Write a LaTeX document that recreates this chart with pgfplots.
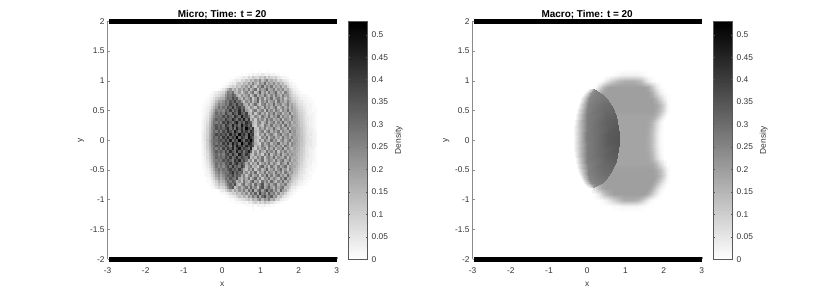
\documentclass[border=0pt]{standalone}
\usepackage{fontspec}
\setmainfont{Liberation Sans}
\usepackage{pgfplots}
\pgfplotsset{compat=1.18}
\definecolor{lab}{gray}{0.2}
\pgfplotsset{
 colormap={flipgray}{rgb=(1,1,1) rgb=(0,0,0)},
 panel/.style={
  scale only axis, width=229.3bp, height=237.9bp, clip=false,
  xmin=-3, xmax=3, ymin=-2, ymax=2,
  axis x line*=bottom, axis y line*=left,
  axis line style={-,draw=black!45, line width=0.7bp},
  tick style={draw=black!45, line width=0.5bp}, major tick length=2bp, tick align=inside,
  xtick={-3,-2,-1,0,1,2,3},
  ytick={-2,-1.5,-1,-0.5,0,0.5,1,1.5,2},
  /pgf/number format/assume math mode=true,
  tick label style={font=\fontsize{8.4}{9}\selectfont, text=lab},
  xticklabel style={yshift=-5bp},
  yticklabel style={xshift=0.5bp},
  xlabel=x, ylabel=y,
  label style={font=\fontsize{8.4}{9}\selectfont, text=lab},
  xlabel style={at={(axis description cs:0.5,0)},anchor=base,yshift=-27.5bp},
  ylabel style={at={(axis description cs:0,0.5)},anchor=base,yshift=25bp},
  title style={at={(axis description cs:0.5,1)},anchor=base,yshift=-2bp,font=\bfseries\fontsize{10}{11}\selectfont},
  point meta min=0, point meta max=0.53,
  colorbar sampled,
  colorbar shift/.style={xshift=5.7bp},
  colorbar style={
   samples=107,
   width=19.5bp, height=237.9bp,
   ytick={0,0.05,0.1,0.15,0.2,0.25,0.3,0.35,0.4,0.45,0.5},
   /pgf/number format/fixed, /pgf/number format/precision=2, /pgf/number format/assume math mode=true,
   tick style={draw=black!65, line width=0.5bp}, major tick length=2bp, tick align=inside,
   axis line style={draw=black!65, line width=0.7bp},
   yticklabel style={font=\fontsize{8.4}{9}\selectfont, text=lab, xshift=0.5bp},
   ylabel=Density,
   ylabel style={font=\fontsize{8.4}{9}\selectfont, text=lab},
  },
 }
}
\begin{document}
\begin{tikzpicture}
\path[use as bounding box] (0,0) rectangle (830bp,291bp);
\begin{axis}[panel, at={(107.5bp,31.8bp)}, anchor=south west, title={Micro; Time: t = 20}]
\addplot[matrix plot*, mesh/cols=50, point meta=explicit, forget plot] table[header=false,row sep=\\,
 x expr={-0.5+0.06*mod(\coordindex,50)}, y expr={1.15-0.05*floor(\coordindex/50)}, meta index=0]{
0\\0\\0\\0\\0\\0\\0\\0\\0\\0\\ 0\\0\\0\\0\\0\\0\\0\\0\\0\\0\\ 0\\0\\.01\\0\\0\\.01\\0\\0\\.01\\0\\ 0\\0\\0\\0\\0\\0\\0\\0\\0\\0\\ 0\\0\\0\\0\\0\\0\\0\\0\\0\\0\\
0\\0\\0\\0\\0\\0\\0\\0\\0\\0\\ 0\\0\\0\\0\\0\\0\\0\\.01\\0\\.01\\ .02\\.01\\.03\\.02\\.04\\.02\\.05\\.03\\.02\\.04\\ .02\\.03\\.01\\.01\\0\\.01\\0\\0\\0\\0\\ 0\\0\\0\\0\\0\\0\\0\\0\\0\\0\\
0\\0\\0\\0\\0\\0\\0\\0\\0\\0\\ 0\\0\\0\\0\\.01\\.01\\.02\\.03\\.05\\.04\\ .08\\.06\\.11\\.09\\.07\\.13\\.1\\.15\\.08\\.12\\ .09\\.07\\.1\\.05\\.04\\.02\\.02\\.01\\0\\0\\ 0\\0\\0\\0\\0\\0\\0\\0\\0\\0\\
0\\0\\0\\0\\0\\0\\0\\0\\0\\0\\ 0\\0\\.01\\.02\\.03\\.05\\.04\\.09\\.07\\.12\\ .1\\.17\\.12\\.2\\.15\\.24\\.13\\.19\\.26\\.14\\ .18\\.13\\.16\\.09\\.11\\.06\\.05\\.03\\.01\\.01\\ 0\\0\\0\\0\\0\\0\\0\\0\\0\\0\\
0\\0\\0\\0\\0\\0\\0\\0\\0\\0\\ .01\\.01\\.03\\.05\\.04\\.09\\.12\\.08\\.16\\.13\\ .21\\.14\\.26\\.17\\.12\\.23\\.19\\.3\\.15\\.22\\ .17\\.24\\.14\\.19\\.12\\.15\\.08\\.06\\.03\\.02\\ .01\\0\\0\\0\\0\\0\\0\\0\\0\\0\\
0\\0\\0\\0\\0\\0\\0\\0\\0\\.01\\ .02\\.04\\.07\\.1\\.08\\.14\\.11\\.18\\.15\\.21\\ .13\\.27\\.18\\.11\\.24\\.2\\.31\\.16\\.25\\.19\\ .28\\.15\\.21\\.17\\.23\\.13\\.16\\.09\\.05\\.03\\ .02\\.01\\0\\0\\0\\0\\0\\0\\0\\0\\
0\\0\\0\\0\\0\\0\\0\\.01\\.02\\.05\\ .09\\.16\\.22\\.13\\.18\\.12\\.2\\.15\\.24\\.17\\ .28\\.14\\.21\\.3\\.12\\.26\\.19\\.23\\.33\\.17\\ .2\\.27\\.15\\.22\\.18\\.25\\.14\\.17\\.1\\.06\\ .03\\.02\\.01\\0\\0\\0\\0\\0\\0\\0\\
0\\0\\0\\0\\.01\\.02\\.04\\.06\\.07\\.09\\ .17\\.27\\.24\\.3\\.16\\.14\\.21\\.11\\.19\\.25\\ .15\\.22\\.29\\.13\\.2\\.34\\.17\\.24\\.14\\.28\\ .19\\.23\\.31\\.16\\.21\\.13\\.26\\.18\\.12\\.08\\ .05\\.03\\.02\\.01\\0\\0\\0\\0\\0\\0\\
0\\0\\0\\.01\\.02\\.04\\.06\\.08\\.1\\.13\\ .22\\.28\\.27\\.33\\.29\\.18\\.13\\.23\\.16\\.2\\ .27\\.12\\.19\\.31\\.15\\.23\\.18\\.3\\.21\\.14\\ .25\\.17\\.29\\.2\\.14\\.27\\.19\\.22\\.13\\.1\\ .07\\.05\\.03\\.02\\.02\\.01\\.01\\0\\0\\0\\
0\\0\\.01\\.02\\.03\\.06\\.1\\.13\\.15\\.17\\ .25\\.31\\.28\\.37\\.31\\.34\\.19\\.14\\.26\\.17\\ .22\\.29\\.11\\.2\\.33\\.16\\.26\\.13\\.24\\.19\\ .3\\.15\\.22\\.27\\.18\\.24\\.13\\.2\\.17\\.12\\ .09\\.07\\.05\\.03\\.02\\.02\\.01\\.01\\0\\0\\
0\\.01\\.01\\.03\\.05\\.08\\.14\\.2\\.19\\.23\\ .3\\.26\\.35\\.31\\.39\\.29\\.32\\.2\\.13\\.24\\ .18\\.27\\.14\\.22\\.32\\.12\\.25\\.19\\.28\\.16\\ .21\\.26\\.14\\.29\\.19\\.23\\.16\\.25\\.18\\.13\\ .11\\.08\\.06\\.05\\.03\\.02\\.02\\.01\\.01\\0\\
0\\.01\\.02\\.04\\.07\\.11\\.18\\.25\\.22\\.25\\ .3\\.27\\.38\\.32\\.3\\.41\\.3\\.34\\.19\\.15\\ .26\\.13\\.21\\.3\\.17\\.11\\.24\\.28\\.16\\.23\\ .19\\.31\\.17\\.22\\.26\\.14\\.2\\.28\\.16\\.19\\ .14\\.1\\.07\\.06\\.04\\.03\\.02\\.02\\.01\\0\\
.01\\.01\\.03\\.05\\.09\\.15\\.21\\.3\\.24\\.3\\ .26\\.36\\.31\\.42\\.29\\.35\\.39\\.3\\.33\\.17\\ .13\\.24\\.19\\.12\\.27\\.21\\.15\\.29\\.18\\.25\\ .16\\.23\\.3\\.14\\.2\\.27\\.17\\.24\\.15\\.22\\ .16\\.12\\.09\\.07\\.05\\.04\\.02\\.02\\.01\\.01\\
.01\\.02\\.03\\.07\\.12\\.18\\.27\\.24\\.27\\.24\\ .33\\.3\\.4\\.28\\.37\\.32\\.44\\.3\\.38\\.21\\ .16\\.11\\.23\\.28\\.14\\.2\\.26\\.13\\.31\\.19\\ .24\\.15\\.28\\.21\\.13\\.25\\.19\\.3\\.16\\.2\\ .17\\.14\\.1\\.08\\.06\\.04\\.03\\.02\\.01\\.01\\
.01\\.02\\.04\\.09\\.14\\.21\\.31\\.26\\.31\\.26\\ .38\\.3\\.28\\.41\\.33\\.3\\.45\\.34\\.3\\.39\\ .18\\.14\\.27\\.12\\.22\\.29\\.17\\.24\\.13\\.26\\ .2\\.3\\.16\\.23\\.27\\.14\\.21\\.18\\.29\\.15\\ .18\\.15\\.11\\.09\\.07\\.05\\.03\\.02\\.02\\.01\\
.01\\.03\\.05\\.1\\.17\\.24\\.28\\.3\\.28\\.37\\ .3\\.39\\.32\\.27\\.43\\.36\\.3\\.47\\.33\\.37\\ .29\\.15\\.12\\.25\\.19\\.13\\.28\\.21\\.16\\.3\\ .17\\.24\\.2\\.31\\.15\\.26\\.19\\.23\\.14\\.27\\ .19\\.16\\.12\\.1\\.07\\.05\\.04\\.03\\.02\\.01\\
.01\\.03\\.06\\.12\\.19\\.27\\.33\\.29\\.33\\.29\\ .4\\.33\\.31\\.44\\.35\\.28\\.41\\.32\\.46\\.3\\ .41\\.14\\.22\\.11\\.26\\.18\\.24\\.15\\.29\\.2\\ .27\\.16\\.22\\.19\\.3\\.14\\.25\\.21\\.17\\.24\\ .18\\.17\\.13\\.1\\.08\\.05\\.05\\.03\\.02\\.01\\
.02\\.04\\.07\\.13\\.21\\.29\\.26\\.32\\.26\\.39\\ .32\\.42\\.34\\.29\\.39\\.47\\.31\\.37\\.3\\.43\\ .36\\.33\\.17\\.12\\.23\\.27\\.14\\.2\\.3\\.16\\ .22\\.28\\.15\\.25\\.18\\.32\\.17\\.21\\.26\\.15\\ .2\\.16\\.14\\.11\\.08\\.06\\.04\\.03\\.02\\.01\\
.02\\.04\\.08\\.14\\.22\\.3\\.35\\.3\\.35\\.28\\ .41\\.35\\.3\\.45\\.32\\.38\\.29\\.49\\.34\\.4\\ .32\\.39\\.15\\.1\\.24\\.19\\.13\\.28\\.22\\.17\\ .29\\.16\\.23\\.2\\.27\\.14\\.3\\.18\\.24\\.19\\ .17\\.18\\.14\\.11\\.09\\.06\\.05\\.03\\.02\\.01\\
.02\\.05\\.09\\.15\\.24\\.28\\.36\\.31\\.36\\.31\\ .37\\.44\\.3\\.4\\.28\\.46\\.33\\.42\\.31\\.51\\ .38\\.3\\.41\\.13\\.11\\.25\\.18\\.27\\.14\\.22\\ .18\\.31\\.2\\.15\\.26\\.22\\.17\\.29\\.14\\.23\\ .2\\.17\\.15\\.12\\.09\\.07\\.05\\.04\\.03\\.01\\
.02\\.05\\.09\\.16\\.23\\.31\\.27\\.36\\.27\\.38\\ .31\\.43\\.36\\.3\\.47\\.38\\.3\\.44\\.34\\.4\\ .31\\.44\\.36\\.16\\.12\\.2\\.27\\.13\\.23\\.3\\ .16\\.24\\.19\\.28\\.14\\.25\\.2\\.17\\.31\\.19\\ .22\\.16\\.15\\.12\\.09\\.07\\.05\\.04\\.03\\.02\\
.03\\.05\\.1\\.17\\.25\\.3\\.38\\.33\\.38\\.33\\ .39\\.29\\.45\\.33\\.41\\.31\\.5\\.36\\.43\\.32\\ .49\\.37\\.4\\.14\\.1\\.23\\.17\\.29\\.15\\.21\\ .27\\.18\\.13\\.24\\.3\\.16\\.22\\.26\\.15\\.2\\ .21\\.17\\.16\\.12\\.1\\.07\\.05\\.05\\.03\\.02\\
.03\\.06\\.1\\.17\\.24\\.33\\.29\\.36\\.29\\.41\\ .33\\.44\\.32\\.4\\.35\\.52\\.31\\.42\\.37\\.3\\ .5\\.42\\.33\\.17\\.13\\.11\\.25\\.19\\.3\\.14\\ .23\\.28\\.17\\.21\\.15\\.29\\.19\\.24\\.18\\.26\\ .19\\.18\\.15\\.13\\.1\\.07\\.06\\.04\\.03\\.02\\
.03\\.06\\.11\\.18\\.26\\.3\\.31\\.34\\.37\\.32\\ .41\\.32\\.46\\.3\\.39\\.34\\.53\\.38\\.3\\.44\\ .39\\.51\\.36\\.15\\.11\\.24\\.14\\.28\\.2\\.16\\ .3\\.19\\.25\\.14\\.22\\.27\\.16\\.23\\.29\\.17\\ .2\\.19\\.15\\.13\\.1\\.07\\.06\\.05\\.03\\.02\\
.03\\.05\\.1\\.17\\.25\\.32\\.28\\.34\\.28\\.4\\ .32\\.43\\.31\\.47\\.35\\.41\\.3\\.55\\.37\\.33\\ .47\\.43\\.3\\.18\\.12\\.1\\.26\\.17\\.23\\.29\\ .15\\.24\\.2\\.31\\.16\\.22\\.18\\.27\\.14\\.25\\ .21\\.17\\.16\\.12\\.1\\.07\\.05\\.05\\.03\\.02\\
.02\\.05\\.1\\.16\\.24\\.29\\.36\\.31\\.36\\.31\\ .4\\.34\\.28\\.44\\.31\\.48\\.36\\.42\\.31\\.45\\ .37\\.41\\.35\\.14\\.2\\.13\\.27\\.19\\.15\\.3\\ .22\\.16\\.28\\.19\\.25\\.14\\.3\\.21\\.17\\.24\\ .19\\.18\\.15\\.12\\.1\\.06\\.05\\.05\\.03\\.02\\
.02\\.05\\.09\\.15\\.23\\.3\\.26\\.33\\.26\\.39\\ .3\\.41\\.33\\.45\\.29\\.39\\.49\\.32\\.4\\.35\\ .3\\.45\\.17\\.11\\.24\\.16\\.22\\.28\\.13\\.26\\ .18\\.29\\.15\\.23\\.2\\.31\\.16\\.25\\.19\\.14\\ .2\\.16\\.15\\.11\\.09\\.06\\.05\\.03\\.03\\.01\\
.02\\.04\\.08\\.14\\.22\\.28\\.34\\.29\\.34\\.29\\ .38\\.3\\.44\\.34\\.3\\.46\\.33\\.41\\.28\\.37\\ .46\\.33\\.13\\.22\\.12\\.27\\.18\\.14\\.29\\.2\\ .25\\.17\\.3\\.13\\.24\\.19\\.26\\.16\\.22\\.18\\ .18\\.17\\.14\\.11\\.09\\.06\\.05\\.03\\.02\\.01\\
.02\\.04\\.07\\.13\\.2\\.27\\.31\\.26\\.31\\.26\\ .35\\.4\\.3\\.43\\.32\\.28\\.47\\.36\\.3\\.42\\ .34\\.17\\.12\\.25\\.16\\.21\\.11\\.28\\.19\\.31\\ .14\\.22\\.27\\.18\\.3\\.15\\.2\\.26\\.17\\.23\\ .19\\.15\\.13\\.11\\.08\\.06\\.05\\.03\\.02\\.01\\
.01\\.03\\.07\\.12\\.19\\.25\\.32\\.28\\.32\\.28\\ .37\\.3\\.41\\.29\\.34\\.44\\.31\\.39\\.33\\.3\\ .4\\.13\\.2\\.14\\.26\\.18\\.29\\.12\\.23\\.27\\ .19\\.31\\.15\\.24\\.2\\.17\\.28\\.14\\.25\\.18\\ .17\\.16\\.13\\.1\\.08\\.05\\.05\\.03\\.02\\.01\\
.01\\.03\\.06\\.11\\.17\\.25\\.27\\.3\\.27\\.36\\ .31\\.38\\.32\\.27\\.42\\.35\\.45\\.3\\.37\\.29\\ .17\\.24\\.11\\.28\\.15\\.21\\.3\\.13\\.19\\.26\\ .22\\.14\\.29\\.18\\.24\\.3\\.16\\.2\\.27\\.15\\ .19\\.15\\.12\\.1\\.07\\.05\\.03\\.03\\.02\\.01\\
.01\\.02\\.05\\.09\\.16\\.22\\.3\\.26\\.3\\.26\\ .35\\.32\\.4\\.28\\.37\\.43\\.31\\.36\\.3\\.18\\ .27\\.13\\.23\\.16\\.31\\.12\\.2\\.25\\.18\\.29\\ .16\\.26\\.2\\.13\\.28\\.22\\.17\\.31\\.15\\.21\\ .16\\.16\\.12\\.09\\.06\\.05\\.03\\.03\\.01\\.01\\
.01\\.02\\.04\\.08\\.13\\.2\\.29\\.24\\.29\\.24\\ .31\\.37\\.29\\.42\\.3\\.34\\.28\\.4\\.32\\.15\\ .22\\.28\\.14\\.19\\.11\\.26\\.32\\.17\\.24\\.13\\ .29\\.2\\.15\\.27\\.18\\.23\\.3\\.14\\.22\\.19\\ .18\\.14\\.11\\.08\\.06\\.05\\.03\\.02\\.01\\.01\\
.01\\.01\\.03\\.06\\.11\\.18\\.25\\.3\\.25\\.3\\ .27\\.34\\.39\\.31\\.36\\.29\\.41\\.3\\.19\\.13\\ .25\\.17\\.3\\.12\\.22\\.28\\.15\\.21\\.33\\.16\\ .2\\.27\\.14\\.24\\.31\\.17\\.22\\.13\\.26\\.19\\ .15\\.13\\.1\\.07\\.05\\.03\\.02\\.02\\.01\\0\\
0\\.01\\.02\\.05\\.09\\.14\\.22\\.27\\.22\\.27\\ .3\\.28\\.36\\.42\\.3\\.37\\.3\\.33\\.16\\.24\\ .14\\.27\\.19\\.31\\.12\\.23\\.18\\.29\\.15\\.26\\ .22\\.16\\.3\\.19\\.25\\.14\\.28\\.2\\.17\\.21\\ .14\\.12\\.08\\.06\\.05\\.03\\.02\\.01\\.01\\0\\
0\\.01\\.02\\.03\\.07\\.11\\.19\\.24\\.19\\.24\\ .29\\.33\\.31\\.38\\.28\\.34\\.31\\.18\\.26\\.13\\ .23\\.3\\.16\\.21\\.28\\.11\\.25\\.19\\.34\\.17\\ .27\\.15\\.23\\.29\\.18\\.24\\.16\\.31\\.19\\.15\\ .12\\.1\\.07\\.05\\.03\\.02\\.02\\.01\\0\\0\\
0\\0\\.01\\.02\\.05\\.09\\.15\\.21\\.17\\.21\\ .3\\.26\\.35\\.3\\.27\\.37\\.19\\.14\\.25\\.18\\ .29\\.13\\.22\\.32\\.16\\.27\\.12\\.24\\.2\\.3\\ .17\\.26\\.21\\.14\\.28\\.19\\.33\\.16\\.22\\.13\\ .1\\.08\\.06\\.05\\.03\\.02\\.01\\.01\\0\\0\\
0\\0\\.01\\.01\\.03\\.06\\.1\\.17\\.14\\.17\\ .24\\.31\\.27\\.34\\.3\\.15\\.22\\.13\\.28\\.19\\ .15\\.26\\.33\\.18\\.24\\.11\\.29\\.2\\.27\\.16\\ .31\\.2\\.14\\.25\\.19\\.3\\.17\\.23\\.15\\.12\\ .08\\.06\\.04\\.03\\.02\\.01\\.01\\0\\0\\0\\
0\\0\\0\\.01\\.02\\.04\\.08\\.13\\.11\\.13\\ .2\\.28\\.33\\.26\\.37\\.18\\.12\\.24\\.3\\.16\\ .22\\.28\\.14\\.31\\.19\\.25\\.35\\.16\\.21\\.29\\ .18\\.26\\.3\\.15\\.23\\.19\\.27\\.14\\.13\\.08\\ .07\\.05\\.03\\.02\\.01\\.01\\0\\0\\0\\0\\
0\\0\\0\\0\\.01\\.02\\.05\\.09\\.07\\.09\\ .14\\.22\\.3\\.35\\.12\\.17\\.25\\.15\\.22\\.29\\ .17\\.32\\.2\\.26\\.13\\.29\\.36\\.18\\.24\\.33\\ .21\\.16\\.28\\.19\\.25\\.3\\.14\\.15\\.09\\.05\\ .04\\.02\\.01\\.01\\0\\0\\0\\0\\0\\0\\
0\\0\\0\\0\\0\\0\\0\\.01\\.03\\.05\\ .08\\.13\\.17\\.11\\.19\\.14\\.23\\.18\\.27\\.16\\ .3\\.22\\.36\\.17\\.27\\.34\\.2\\.29\\.38\\.24\\ .31\\.19\\.27\\.16\\.32\\.2\\.17\\.1\\.06\\.03\\ .02\\.01\\0\\0\\0\\0\\0\\0\\0\\0\\
0\\0\\0\\0\\0\\0\\0\\0\\.01\\.01\\ .02\\.04\\.07\\.1\\.09\\.15\\.12\\.2\\.16\\.24\\ .14\\.29\\.21\\.33\\.17\\.39\\.25\\.3\\.19\\.35\\ .23\\.28\\.16\\.25\\.13\\.16\\.09\\.05\\.03\\.02\\ .01\\0\\0\\0\\0\\0\\0\\0\\0\\0\\
0\\0\\0\\0\\0\\0\\0\\0\\0\\0\\ .01\\.01\\.03\\.04\\.06\\.08\\.13\\.1\\.17\\.12\\ .22\\.16\\.28\\.2\\.34\\.18\\.3\\.37\\.22\\.26\\ .33\\.19\\.24\\.12\\.14\\.07\\.05\\.03\\.01\\.01\\ 0\\0\\0\\0\\0\\0\\0\\0\\0\\0\\
0\\0\\0\\0\\0\\0\\0\\0\\0\\0\\ 0\\0\\.01\\.01\\.02\\.03\\.05\\.07\\.06\\.1\\ .13\\.09\\.17\\.14\\.2\\.26\\.15\\.23\\.19\\.28\\ .16\\.2\\.11\\.09\\.05\\.03\\.02\\.01\\0\\0\\ 0\\0\\0\\0\\0\\0\\0\\0\\0\\0\\
0\\0\\0\\0\\0\\0\\0\\0\\0\\0\\ 0\\0\\0\\0\\.01\\.01\\.01\\.02\\.03\\.02\\ .05\\.04\\.07\\.1\\.06\\.11\\.08\\.13\\.09\\.1\\ .07\\.05\\.03\\.02\\.01\\.01\\0\\0\\0\\0\\ 0\\0\\0\\0\\0\\0\\0\\0\\0\\0\\
0\\0\\0\\0\\0\\0\\0\\0\\0\\0\\ 0\\0\\0\\0\\0\\0\\0\\0\\0\\.01\\ .01\\.01\\.02\\.01\\.03\\.02\\.02\\.03\\.01\\.02\\ .01\\.01\\0\\0\\0\\0\\0\\0\\0\\0\\ 0\\0\\0\\0\\0\\0\\0\\0\\0\\0\\
0\\0\\0\\0\\0\\0\\0\\0\\0\\0\\ 0\\0\\0\\0\\0\\0\\0\\0\\0\\0\\ 0\\0\\.01\\0\\0\\0\\.01\\0\\0\\0\\ 0\\0\\0\\0\\0\\0\\0\\0\\0\\0\\ 0\\0\\0\\0\\0\\0\\0\\0\\0\\0\\
};
\addplot[black, line width=5bp, forget plot] coordinates {(-2.95,2) (3,2)};
\addplot[black, line width=5bp, forget plot] coordinates {(-2.95,-2) (3,-2)};
\end{axis}
\begin{axis}[panel, at={(472.5bp,31.8bp)}, anchor=south west, title={Macro; Time: t = 20}]
\addplot[surf, shader=interp, mesh/cols=23, point meta=explicit, forget plot] table[header=false,row sep=\\,
 x expr={0.1*mod(\coordindex,23)}, y expr={1.2-0.1*floor(\coordindex/23)}, meta index=0]{
0\\0\\0\\0\\0\\0\\0\\0\\0\\0\\0\\0\\0\\0\\0\\0\\0\\0\\0\\0\\0\\0\\0\\
0\\0\\0\\0\\0\\0\\0\\.01\\.02\\.03\\.03\\.03\\.03\\.03\\.02\\.01\\0\\0\\0\\0\\0\\0\\0\\
0\\0\\0\\0\\.01\\.05\\.09\\.12\\.15\\.16\\.17\\.17\\.17\\.16\\.14\\.09\\.04\\.01\\0\\0\\0\\0\\0\\
0\\0\\.01\\.07\\.13\\.18\\.2\\.2\\.2\\.2\\.2\\.2\\.2\\.2\\.2\\.2\\.18\\.12\\.05\\.01\\0\\0\\0\\
0\\.01\\.09\\.16\\.19\\.2\\.2\\.2\\.2\\.2\\.2\\.2\\.2\\.2\\.2\\.2\\.2\\.17\\.1\\.04\\.01\\0\\0\\
.02\\.09\\.17\\.19\\.2\\.2\\.2\\.2\\.2\\.2\\.2\\.2\\.2\\.2\\.2\\.2\\.2\\.2\\.16\\.1\\.04\\.01\\0\\
.19\\.19\\.19\\.19\\.19\\.2\\.2\\.2\\.2\\.2\\.2\\.2\\.2\\.2\\.2\\.2\\.2\\.2\\.19\\.15\\.085\\.02\\0\\
.19\\.19\\.19\\.19\\.19\\.2\\.2\\.2\\.2\\.2\\.2\\.2\\.2\\.2\\.2\\.2\\.2\\.2\\.18\\.14\\.075\\.02\\0\\
.19\\.19\\.19\\.19\\.19\\.19\\.19\\.19\\.19\\.19\\.19\\.19\\.19\\.19\\.19\\.19\\.19\\.185\\.155\\.09\\.03\\0\\0\\
.19\\.19\\.19\\.19\\.19\\.19\\.19\\.19\\.19\\.19\\.19\\.19\\.19\\.19\\.19\\.19\\.185\\.155\\.09\\.03\\0\\0\\0\\
.19\\.19\\.19\\.19\\.19\\.19\\.19\\.19\\.19\\.19\\.19\\.19\\.19\\.19\\.19\\.19\\.18\\.145\\.075\\.02\\0\\0\\0\\
.19\\.19\\.19\\.19\\.19\\.19\\.19\\.19\\.19\\.19\\.19\\.19\\.19\\.19\\.19\\.19\\.175\\.135\\.065\\.015\\0\\0\\0\\
.19\\.19\\.19\\.19\\.19\\.19\\.19\\.19\\.19\\.19\\.19\\.19\\.19\\.19\\.19\\.19\\.175\\.135\\.065\\.015\\0\\0\\0\\
.19\\.19\\.19\\.19\\.19\\.19\\.19\\.19\\.19\\.19\\.19\\.19\\.19\\.19\\.19\\.19\\.175\\.135\\.065\\.015\\0\\0\\0\\
.19\\.19\\.19\\.19\\.19\\.19\\.19\\.19\\.19\\.19\\.19\\.19\\.19\\.19\\.19\\.19\\.18\\.145\\.075\\.02\\0\\0\\0\\
.19\\.19\\.19\\.19\\.19\\.19\\.19\\.19\\.19\\.19\\.19\\.19\\.19\\.19\\.19\\.19\\.185\\.155\\.09\\.03\\0\\0\\0\\
.19\\.19\\.19\\.19\\.19\\.19\\.19\\.19\\.19\\.19\\.19\\.19\\.19\\.19\\.19\\.19\\.19\\.185\\.15\\.085\\.03\\0\\0\\
.19\\.19\\.19\\.19\\.19\\.2\\.2\\.2\\.2\\.2\\.2\\.2\\.2\\.2\\.2\\.2\\.2\\.2\\.18\\.14\\.075\\.02\\0\\
.19\\.19\\.19\\.19\\.19\\.2\\.2\\.2\\.2\\.2\\.2\\.2\\.2\\.2\\.2\\.2\\.2\\.2\\.19\\.15\\.085\\.02\\0\\
.02\\.08\\.16\\.19\\.2\\.2\\.2\\.2\\.2\\.2\\.2\\.2\\.2\\.2\\.2\\.2\\.2\\.2\\.16\\.1\\.04\\.01\\0\\
0\\.01\\.08\\.15\\.18\\.2\\.2\\.2\\.2\\.2\\.2\\.2\\.2\\.2\\.2\\.2\\.2\\.17\\.1\\.04\\.01\\0\\0\\
0\\0\\.01\\.05\\.1\\.15\\.18\\.2\\.2\\.2\\.2\\.2\\.2\\.2\\.2\\.2\\.17\\.11\\.05\\.01\\0\\0\\0\\
0\\0\\0\\0\\.01\\.03\\.065\\.1\\.13\\.16\\.17\\.17\\.17\\.16\\.13\\.085\\.04\\.01\\0\\0\\0\\0\\0\\
0\\0\\0\\0\\0\\0\\0\\.01\\.01\\.02\\.02\\.02\\.02\\.02\\.01\\.01\\0\\0\\0\\0\\0\\0\\0\\
0\\0\\0\\0\\0\\0\\0\\0\\0\\0\\0\\0\\0\\0\\0\\0\\0\\0\\0\\0\\0\\0\\0\\
};
\addplot[surf, shader=interp, mesh/cols=6, point meta=explicit, forget plot] table[header=false,row sep=\\, x index=0, y index=1, meta index=2]{
-.006 .857 0\\.069 .857 .05\\.144 .857 .15\\.158 .857 .2\\.172 .857 .24\\.186 .857 .26\\
-.112 .78 0\\-.012 .78 .11\\.088 .78 .24\\.188 .78 .26\\.287 .78 .27\\.387 .78 .28\\
-.183 .7 0\\-.068 .7 .13\\.047 .7 .25\\.201 .7 .27\\.355 .7 .28\\.509 .7 .29\\
-.247 .6 0\\-.117 .6 .13\\.013 .6 .26\\.214 .6 .28\\.416 .6 .3\\.617 .6 .31\\
-.294 .5 0\\-.144 .5 .14\\.006 .5 .26\\.235 .5 .29\\.465 .5 .31\\.694 .5 .32\\
-.329 .4 0\\-.164 .4 .14\\.001 .4 .27\\.251 .4 .29\\.5 .4 .32\\.75 .4 .33\\
-.354 .3 0\\-.179 .3 .14\\-.004 .3 .27\\.261 .3 .3\\.526 .3 .33\\.791 .3 .34\\
-.37 .2 0\\-.19 .2 .14\\-.01 .2 .27\\.266 .2 .3\\.541 .2 .33\\.817 .2 .35\\
-.378 .1 0\\-.198 .1 .14\\-.018 .1 .27\\.265 .1 .3\\.549 .1 .34\\.832 .1 .35\\
-.38 .03 0\\-.2 .03 .14\\-.02 .03 .27\\.265 .03 .3\\.55 .03 .34\\.834 .03 .355\\
-.377 -.05 0\\-.197 -.05 .14\\-.017 -.05 .27\\.265 -.05 .3\\.548 -.05 .34\\.83 -.05 .355\\
-.368 -.15 0\\-.188 -.15 .14\\-.008 -.15 .27\\.266 -.15 .3\\.54 -.15 .33\\.814 -.15 .35\\
-.35 -.25 0\\-.175 -.25 .14\\0 -.25 .27\\.262 -.25 .3\\.523 -.25 .33\\.785 -.25 .34\\
-.324 -.35 0\\-.159 -.35 .14\\.006 -.35 .27\\.251 -.35 .29\\.497 -.35 .32\\.742 -.35 .33\\
-.287 -.45 0\\-.137 -.45 .14\\.013 -.45 .26\\.236 -.45 .29\\.46 -.45 .31\\.683 -.45 .32\\
-.238 -.55 0\\-.108 -.55 .13\\.022 -.55 .26\\.215 -.55 .28\\.409 -.55 .3\\.602 -.55 .31\\
-.17 -.65 0\\-.055 -.65 .13\\.06 -.65 .25\\.203 -.65 .27\\.346 -.65 .28\\.489 -.65 .29\\
-.105 -.72 0\\-.005 -.72 .11\\.095 -.72 .24\\.189 -.72 .26\\.282 -.72 .27\\.376 -.72 .28\\
-.009 -.79 0\\.066 -.79 .05\\.141 -.79 .15\\.158 -.79 .2\\.174 -.79 .24\\.191 -.79 .26\\
};
\addplot[black, line width=5bp, forget plot] coordinates {(-2.95,2) (3,2)};
\addplot[black, line width=5bp, forget plot] coordinates {(-2.95,-2) (3,-2)};
\end{axis}
\end{tikzpicture}
\end{document}
